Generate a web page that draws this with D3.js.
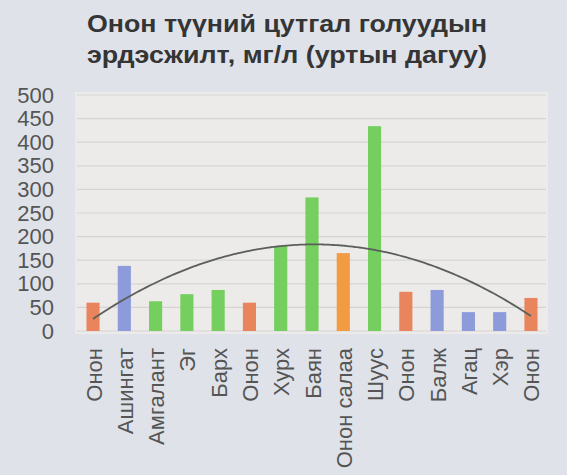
<!DOCTYPE html>
<html>
<head>
<meta charset="utf-8">
<script src="https://cdn.jsdelivr.net/npm/d3@7"></script>
<style>
  html, body { margin: 0; padding: 0; background: #dfe3e9; }
  svg { display: block; }
</style>
</head>
<body>
<svg id="chart" width="567" height="475"></svg>
<script>
// Onon river and its tributaries, mineralization in mg/l, ordered along the river
const categories = ["Онон", "Ашингат", "Амгалант", "Эг", "Барх", "Онон", "Хурх", "Баян",
                    "Онон салаа", "Шуус", "Онон", "Балж", "Агац", "Хэр", "Онон"];
const values = [60, 138, 63, 78, 87, 60, 180, 283, 165, 434, 83, 87, 40, 40, 70];
const groups = ["main", "tribA", "tribB", "tribB", "tribB", "main", "tribB", "tribB",
                "branch", "tribB", "main", "tribA", "tribA", "tribA", "main"];
const yTicks = [0, 50, 100, 150, 200, 250, 300, 350, 400, 450, 500];
const titleLines = ["Онон түүний цутгал голуудын", "эрдэсжилт, мг/л (уртын дагуу)"];

const groupColor = { main: "#e8855d", tribA: "#8d9bdb", tribB: "#74cf5f", branch: "#f19b43" };

const svg = d3.select("#chart");
const W = 567, H = 475;
const plot = { left: 77.4, right: 546.6, top: 95, bottom: 331 };
const font = "Liberation Sans, Arial, sans-serif";

svg.append("rect").attr("width", W).attr("height", H).attr("fill", "#dfe3e9");

// plot area
svg.append("rect")
  .attr("x", 75).attr("y", 92)
  .attr("width", 473).attr("height", 242)
  .attr("fill", "#edebea");

const x = d3.scaleBand()
  .domain(d3.range(categories.length))
  .range([plot.left, plot.right])
  .paddingInner(0.58)
  .paddingOuter(0.29);

const y = d3.scaleLinear().domain([0, 500]).range([plot.bottom, plot.top]);

// gridlines
svg.append("g")
  .selectAll("line")
  .data(yTicks)
  .join("line")
  .attr("x1", 77).attr("x2", 546)
  .attr("y1", d => y(d)).attr("y2", d => y(d))
  .attr("stroke", "#d6d4d3")
  .attr("stroke-width", 1.2);

// y axis labels
const yAxis = d3.axisLeft(y).tickValues(yTicks).tickSize(0).tickPadding(0);
const gy = svg.append("g").attr("transform", "translate(54,0)").call(yAxis);
gy.select(".domain").remove();
gy.selectAll("text")
  .attr("font-family", font)
  .attr("font-size", 22)
  .attr("fill", "#555");

// bars
svg.append("g")
  .selectAll("rect")
  .data(values)
  .join("rect")
  .attr("x", (d, i) => x(i))
  .attr("y", d => y(d))
  .attr("width", x.bandwidth())
  .attr("height", d => y(0) - y(d))
  .attr("fill", (d, i) => groupColor[groups[i]]);

// x axis labels, rotated
const xAxis = d3.axisBottom(x).tickFormat(i => categories[i]).tickSize(0).tickPadding(0);
const gx = svg.append("g").attr("transform", `translate(0,${plot.bottom + 17})`).call(xAxis);
gx.select(".domain").remove();
gx.selectAll("text")
  .attr("font-family", font)
  .attr("font-size", 22)
  .attr("fill", "#555")
  .attr("text-anchor", "end")
  .attr("dy", null)
  .attr("y", 0)
  .attr("x", 0)
  .attr("dominant-baseline", "central")
  .attr("transform", "rotate(-90) translate(0,1)");

// polynomial (order 2) least-squares trendline through the bar values
(function () {
  const n = values.length;
  const xs = d3.range(1, n + 1);
  const mx = d3.mean(xs);
  const t = xs.map(v => v - mx);
  const S2 = d3.sum(t, v => v * v), S4 = d3.sum(t, v => v ** 4);
  const Sy = d3.sum(values), Sty = d3.sum(t, (v, i) => v * values[i]);
  const St2y = d3.sum(t, (v, i) => v * v * values[i]);
  const c = (n * St2y - S2 * Sy) / (n * S4 - S2 * S2);
  const a = (Sy - c * S2) / n;
  const b = Sty / S2;
  const f = k => a + b * (k - mx) + c * (k - mx) ** 2;
  const x0 = x(0) + x.bandwidth() / 2;
  const pts = d3.range(1, n + 0.001, 0.1).map(k => [x0 + (k - 1) * x.step(), y(f(k))]);
  svg.append("path")
    .attr("d", d3.line().curve(d3.curveMonotoneX)(pts))
    .attr("fill", "none")
    .attr("stroke", "#5b5f5a")
    .attr("stroke-width", 1.8);
})();

// title
svg.append("g")
  .selectAll("text")
  .data(titleLines)
  .join("text")
  .attr("x", 287)
  .attr("y", (d, i) => 32 + i * 31)
  .attr("text-anchor", "middle")
  .attr("font-family", font)
  .attr("font-weight", "bold")
  .attr("font-size", 24)
  .attr("textLength", 400)
  .attr("lengthAdjust", "spacingAndGlyphs")
  .attr("fill", "#353535")
  .text(d => d);
</script>
</body>
</html>
